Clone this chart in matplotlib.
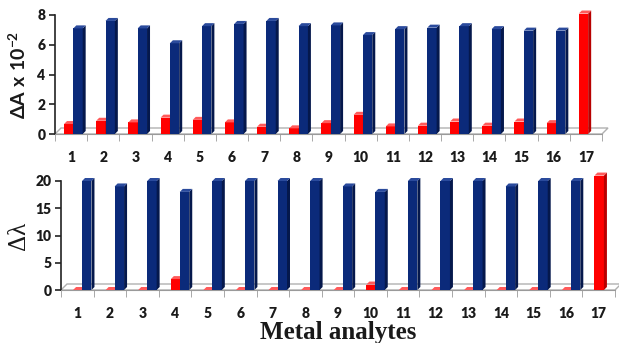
import numpy as np
import matplotlib
matplotlib.use("Agg")
import matplotlib.pyplot as plt
from matplotlib.patches import Polygon, Rectangle

plt.rcParams.update({
    "mathtext.fontset": "custom",
    "mathtext.rm": "Lato:bold",
    "mathtext.it": "Lato:bold",
    "mathtext.bf": "Lato:bold",
})

# metal analytes 1..17 (17 = target analyte, red only)
analytes = [str(i) for i in range(1, 18)]

# absorbance change (x 10^-2)
dA_red = [0.67, 0.89, 0.78, 1.1, 0.95, 0.78, 0.49, 0.38, 0.73, 1.29,
          0.51, 0.56, 0.84, 0.56, 0.84, 0.73, 8.1]
dA_blue = [7.1, 7.6, 7.1, 6.1, 7.25, 7.4, 7.6, 7.25, 7.3, 6.65,
           7.05, 7.15, 7.25, 7.05, 6.95, 6.95, 0.0]

# wavelength shift
dL_red = [0, 0, 0, 2, 0, 0, 0, 0, 0, 1, 0, 0, 0, 0, 0, 0, 21]
dL_blue = [20, 19, 20, 18, 20, 20, 20, 20, 19, 18, 20, 20, 20, 19, 20, 20, 0]

RED = ("#ff0000", "#b80000", "#ff5a5a")
BLUE = ("#0b2a7a", "#05184c", "#2a4a9c")
TICK_FONT = dict(family="Lato", weight="heavy", size=10, color="#1a1a1a")

W, H = 619, 343
fig = plt.figure(figsize=(W / 100, H / 100), dpi=100)


def bar3d(ax, x, w, h, colors, dx, dy):
    front, side, top = colors
    kw = dict(clip_on=False, zorder=3, lw=0)
    ax.add_patch(Rectangle((x, 0), w, h, fc=front, **kw))
    ax.add_patch(Polygon([(x + w, 0), (x + w + dx, dy), (x + w + dx, h + dy),
                          (x + w, h)], fc=side, **kw))
    ax.add_patch(Polygon([(x, h), (x + dx, h + dy), (x + w + dx, h + dy),
                          (x + w, h)], fc=top, **kw))


def panel(rect, red, blue, ymax, ystep, px_x, px_y, red_off, blue_off):
    ax = fig.add_axes(rect)
    n = len(analytes)
    ax.set_xlim(0, n)
    ax.set_ylim(0, ymax)
    # pixel -> data conversion for the fake depth
    ux = n / px_x
    uy = ymax / px_y
    fdx, fdy = 6 * ux, 6 * uy
    floor = Polygon([(0, 0), (n, 0), (n + fdx, fdy), (fdx, fdy)], closed=True,
                    fc="white", ec="#b0b0b0", lw=1.0, clip_on=False, zorder=1)
    ax.add_patch(floor)
    bw = 0.29
    for i in range(n):
        if red[i] > 0 or i < n - 1:
            bar3d(ax, i + red_off, bw, red[i], RED, 3 * ux, 3 * uy)
        if blue[i] > 0:
            bar3d(ax, i + blue_off, bw, blue[i], BLUE, 3 * ux, 3 * uy)
    for s in ("top", "right"):
        ax.spines[s].set_visible(False)
    ax.spines["left"].set_color("#222222")
    ax.spines["left"].set_linewidth(1.2)
    ax.spines["bottom"].set_color("#9a9a9a")
    ax.set_yticks(np.arange(0, ymax + 0.01, ystep))
    ax.set_yticklabels([f"{v:g}" for v in np.arange(0, ymax + 0.01, ystep)],
                       **TICK_FONT)
    ax.tick_params(axis="y", length=4, width=1.2, color="#222222", pad=3)
    ax.set_xticks(np.arange(n) + 0.5)
    ax.set_xticklabels(analytes, **TICK_FONT)
    ax.set_xticks(np.arange(n + 1), minor=True)
    ax.tick_params(axis="x", which="major", length=0, pad=12)
    ax.tick_params(axis="x", which="minor", length=5, color="#9a9a9a")
    ax.patch.set_alpha(0)
    return ax


ax1 = panel([55 / W, 1 - 134 / H, 547 / W, 119 / H], dA_red, dA_blue,
            8, 2, 547, 119, 0.28, 0.57)
ax1.set_ylabel(r"$\Delta A\ x\ 10^{-2}$", fontsize=14, color="#1a1a1a",
               labelpad=5)

ax2 = panel([61 / W, 1 - 290 / H, 554 / W, 109 / H], dL_red, dL_blue,
            20, 5, 554, 109, 0.37, 0.645)
ax2.set_ylabel("Δλ", family="Liberation Serif", fontsize=18,
               color="#1a1a1a", labelpad=4)
ax2.set_xlabel("Metal analytes", family="Liberation Serif", weight="bold",
               fontsize=18, color="#1a1a1a", labelpad=1)

fig.savefig("out.png", dpi=100)
